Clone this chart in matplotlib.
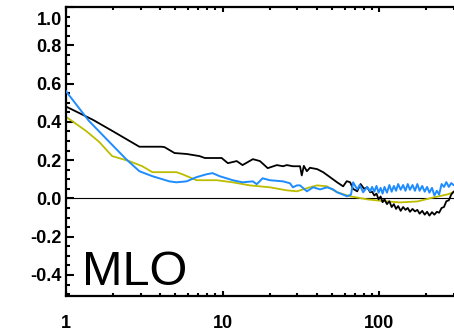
import numpy as np
import matplotlib
matplotlib.use("Agg")
import matplotlib.pyplot as plt
from matplotlib.ticker import FixedLocator, NullFormatter
from matplotlib.transforms import ScaledTranslation

# lag / period axis (log) and the three correlation curves
black_x = [1.0, 1.49, 2.0, 2.94, 4.06, 4.25, 4.57, 4.93, 5.9, 7.12, 7.7, 9.86, 10.8, 12.3,
           13.4, 15.6, 17.3, 19.4, 22.2, 24.3, 25.7, 28.1, 29.8, 31.2, 32.0, 33.0, 34.5,
           36.1, 40.1, 43.8, 48.5, 53.8, 58.8, 62.0, 65.2, 68.0, 72.3, 76.0, 80.0, 83.8,
           87.5, 90, 93, 96, 99, 102, 105, 108, 112, 116, 120, 124, 128, 132, 137, 142,
           147, 152, 157, 163, 169, 175, 181, 188, 195, 202, 209, 217, 225, 233, 241, 250,
           259, 268, 278, 288, 298]
black_y = [0.48, 0.41, 0.35, 0.27, 0.27, 0.268, 0.253, 0.237, 0.232, 0.221, 0.211, 0.211,
           0.184, 0.195, 0.174, 0.205, 0.195, 0.158, 0.174, 0.168, 0.174, 0.168, 0.168,
           0.168, 0.12, 0.17, 0.142, 0.16, 0.153, 0.137, 0.111, 0.084, 0.063, 0.09, 0.084,
           0.05, 0.037, 0.075, 0.05, 0.058, 0.032, 0.035, 0.015, 0.025, -0.005, 0.01,
           -0.02, -0.005, -0.03, -0.015, -0.045, -0.03, -0.055, -0.04, -0.065, -0.045,
           -0.06, -0.05, -0.07, -0.055, -0.068, -0.06, -0.08, -0.065, -0.085, -0.07,
           -0.09, -0.072, -0.085, -0.07, -0.075, -0.05, -0.045, -0.015, -0.01, 0.02, 0.035]

blue_x = [1.0, 1.40, 1.89, 2.42, 2.94, 3.56, 4.57, 5.07, 5.88, 6.81, 7.89, 8.63, 9.57,
          11.6, 13.4, 15.6, 16.5, 18.0, 20.0, 24.3, 26.9, 28.1, 29.8, 31.2, 34.5, 36.1,
          37.8, 41.9, 46.4, 50.7, 53.8, 62.4, 66.0, 68.1, 72.3, 75.0, 78.9, 83.8, 87.5,
          90, 93, 96, 99, 102, 105, 108, 112, 116, 120, 124, 128, 132, 137, 142, 147, 152,
          157, 163, 169, 175, 181, 188, 195, 202, 209, 217, 225, 233, 241, 250, 259, 268,
          278, 288, 298]
blue_y = [0.56, 0.405, 0.295, 0.205, 0.142, 0.116, 0.089, 0.084, 0.089, 0.111, 0.126,
          0.132, 0.116, 0.095, 0.084, 0.089, 0.074, 0.105, 0.095, 0.089, 0.079, 0.058,
          0.068, 0.068, 0.037, 0.047, 0.058, 0.047, 0.058, 0.047, 0.032, 0.011, 0.02,
          0.084, 0.047, 0.07, 0.032, 0.06, 0.037, 0.06, 0.035, 0.065, 0.03, 0.055, 0.025,
          0.06, 0.03, 0.07, 0.035, 0.065, 0.04, 0.075, 0.045, 0.07, 0.04, 0.075, 0.045,
          0.07, 0.04, 0.075, 0.04, 0.065, 0.035, 0.06, 0.03, 0.055, 0.015, 0.04, 0.02,
          0.075, 0.06, 0.085, 0.06, 0.08, 0.07]

olive_x = [1.0, 1.09, 1.34, 1.63, 1.97, 2.53, 3.07, 3.56, 4.12, 5.07, 5.54, 6.81, 9.15,
           11.6, 14.9, 20.0, 25.7, 29.8, 32.6, 36.1, 40.1, 46.4, 53.8, 65.2, 83.8, 112,
           136, 175, 222, 273, 298]
olive_y = [0.426, 0.405, 0.353, 0.295, 0.221, 0.195, 0.168, 0.137, 0.137, 0.137, 0.126,
           0.095, 0.095, 0.084, 0.068, 0.058, 0.042, 0.037, 0.047, 0.058, 0.068, 0.063,
           0.032, 0.011, -0.005, -0.016, -0.021, -0.016, 0.005, 0.021, 0.032]

station = "MLO"
xtick_vals = [1, 10, 100]
xtick_labels = ["1", "10", "100"]
ytick_vals = [-0.4, -0.2, 0.0, 0.2, 0.4, 0.6, 0.8, 1.0]
ytick_labels = ["-0.4", "-0.2", "0.0", "0.2", "0.4", "0.6", "0.8", "1.0"]

plt.rcParams["font.family"] = ["Liberation Sans", "DejaVu Sans"]

fig = plt.figure(figsize=(4.54, 3.35), dpi=100)
ax = fig.add_axes([66 / 454, 39 / 335, 388 / 454, 289 / 335])

ax.axhline(0, color="black", lw=0.8, zorder=1)
ax.plot(black_x, black_y, color="black", lw=1.3, zorder=3)
ax.plot(olive_x, olive_y, color="#BDBD00", lw=1.3, zorder=2)
ax.plot(blue_x, blue_y, color="#1E8CFF", lw=1.4, zorder=4)

ax.set_xscale("log")
ax.set_xlim(1, 300)
ax.set_ylim(-0.51, 1.0)

ax.xaxis.set_major_locator(FixedLocator(xtick_vals))
ax.set_xticklabels(xtick_labels)
ax.xaxis.set_minor_locator(FixedLocator([2, 3, 4, 5, 6, 7, 8, 9, 20, 30, 40, 50, 60, 70, 80, 90, 200, 300]))
ax.xaxis.set_minor_formatter(NullFormatter())
ax.set_yticks(ytick_vals)
ax.set_yticklabels(ytick_labels)
ax.set_yticks(np.arange(-0.5, 1.001, 0.05), minor=True)

for s in ["left", "bottom", "top"]:
    ax.spines[s].set_linewidth(1.6)
ax.spines["right"].set_visible(False)

ax.tick_params(axis="x", which="both", direction="in", top=True, width=1.5)
ax.tick_params(axis="x", which="major", length=3.5, pad=14, labelsize=13)
ax.tick_params(axis="x", which="minor", length=2)
ax.tick_params(axis="y", which="both", direction="in", right=False, width=1.5)
ax.tick_params(axis="y", which="major", length=6, pad=3, labelsize=13)
ax.tick_params(axis="y", which="minor", length=3)
for lab in ax.get_xticklabels() + ax.get_yticklabels():
    lab.set_fontweight("bold")

# top label sits a bit lower in the original
top_lab = ax.get_yticklabels()[-1]
top_lab.set_transform(top_lab.get_transform() + ScaledTranslation(0, -8 / 72, fig.dpi_scale_trans))

ax.text(0.041, 0.038, station, transform=ax.transAxes, fontsize=35, va="baseline")

fig.savefig("out.png", dpi=100)
